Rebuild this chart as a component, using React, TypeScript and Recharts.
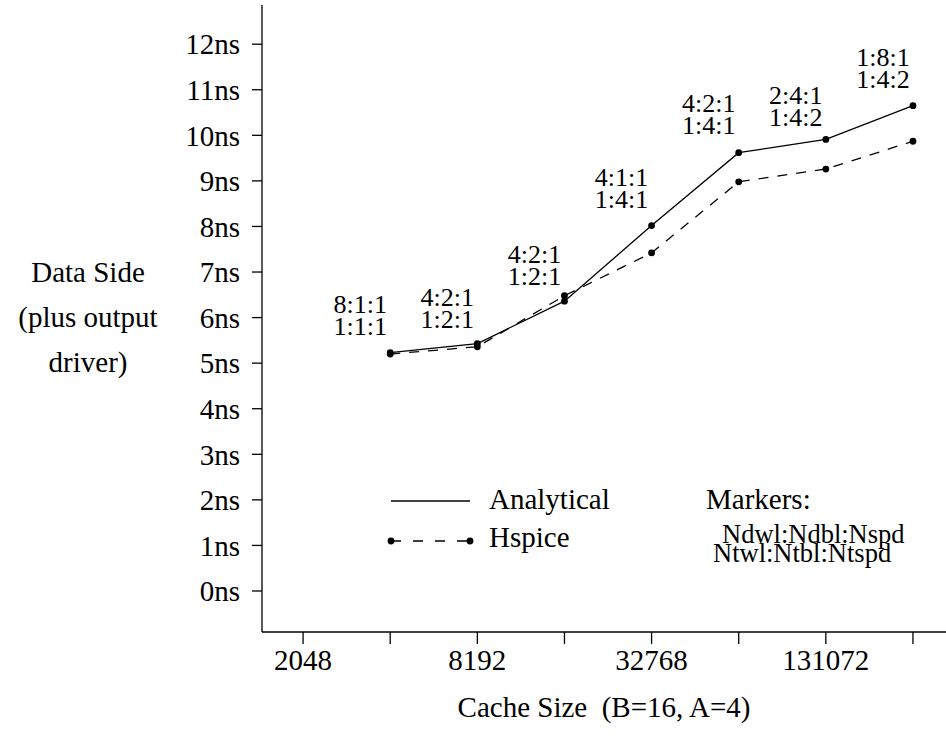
import { LineChart, Line, XAxis, YAxis, Legend, LabelList } from "recharts";

const cacheSizes = [4096, 8192, 16384, 32768, 65536, 131072, 262144];
const analytical = [5.23, 5.43, 6.36, 8.02, 9.62, 9.91, 10.65];
const hspice = [5.2, 5.36, 6.48, 7.42, 8.98, 9.26, 9.87];
const markerTop = ["8:1:1", "4:2:1", "4:2:1", "4:1:1", "4:2:1", "2:4:1", "1:8:1"];
const markerBottom = ["1:1:1", "1:2:1", "1:2:1", "1:4:1", "1:4:1", "1:4:2", "1:4:2"];
// height (ns) of the lower marker line
const markerAt = [5.82, 5.98, 6.92, 8.6, 10.22, 10.4, 11.24];

const xTicks = [2048, 4096, 8192, 16384, 32768, 65536, 131072, 262144];
const xTickLabels = ["2048", "8192", "32768", "131072"];
const yTicks = [0, 1, 2, 3, 4, 5, 6, 7, 8, 9, 10, 11, 12];

const data = cacheSizes.map((size, i) => ({
  size,
  analytical: analytical[i],
  hspice: hspice[i],
  markerAt: markerAt[i],
}));

const FONT = "'Liberation Serif', 'Times New Roman', Times, serif";

function MarkerLabel(props: any) {
  const { x, y, index } = props;
  return (
    <g fontFamily={FONT} fontSize={26} fill="#000" textAnchor="middle">
      <text x={x - 30} y={y - 22} dy="0.35em">
        {markerTop[index]}
      </text>
      <text x={x - 30} y={y} dy="0.35em">
        {markerBottom[index]}
      </text>
    </g>
  );
}

function YTitle(props: any) {
  const { viewBox } = props;
  const cy = viewBox.y + viewBox.height / 2;
  return (
    <g fontFamily={FONT} fontSize={29} fill="#000" textAnchor="middle">
      <text x={88} y={cy - 47} dy="0.35em">Data Side</text>
      <text x={88} y={cy - 2} dy="0.35em">(plus output</text>
      <text x={88} y={cy + 43} dy="0.35em">driver)</text>
    </g>
  );
}

function LegendBox() {
  return (
    <svg width={560} height={100} style={{ display: "block" }}>
      <g fontFamily={FONT} fill="#000">
        <line x1={11} x2={90} y1={26} y2={26} stroke="#000" strokeWidth={1.3} />
        <text x={109} y={24} dy="0.35em" fontSize={29}>Analytical</text>
        <line x1={11} x2={90} y1={66} y2={66} stroke="#000" strokeWidth={1.3} strokeDasharray="10 12" />
        <circle cx={11} cy={66} r={3.4} />
        <circle cx={90} cy={66} r={3.4} />
        <text x={109} y={62} dy="0.35em" fontSize={29}>Hspice</text>
        <text x={326} y={24} dy="0.35em" fontSize={29}>Markers:</text>
        <text x={342} y={59} dy="0.35em" fontSize={26.5}>Ndwl:Ndbl:Nspd</text>
        <text x={333} y={78} dy="0.35em" fontSize={26.5}>Ntwl:Ntbl:Ntspd</text>
      </g>
    </svg>
  );
}

export default function App() {
  return (
    <div style={{ position: "absolute", left: 0, top: 0 }}>
      <LineChart
        width={946}
        height={742}
        data={data}
        margin={{ top: 5, right: 0, left: 0, bottom: 50 }}
      >
        <XAxis
          xAxisId="top"
          orientation="top"
          dataKey="size"
          type="number"
          scale="log"
          domain={[1477, 340950]}
          height={0}
          tick={false}
          tickLine={false}
          axisLine={{ stroke: "#000", strokeWidth: 1.3 }}
        />
        <XAxis
          dataKey="size"
          type="number"
          scale="log"
          domain={[1477, 340950]}
          ticks={xTicks}
          tickFormatter={(v: number) => (xTickLabels.includes(String(v)) ? String(v) : "")}
          interval={0}
          height={60}
          tickSize={12}
          tickMargin={5}
          axisLine={{ stroke: "#000", strokeWidth: 1.3 }}
          tickLine={{ stroke: "#000", strokeWidth: 1.3 }}
          tick={{ fill: "#000", fontSize: 29, fontFamily: FONT }}
          label={{
            value: "Cache Size\u00A0\u00A0(B=16, A=4)",
            position: "bottom",
            offset: 4,
            style: { fill: "#000", fontSize: 29, fontFamily: FONT },
          }}
        />
        <YAxis
          type="number"
          domain={[-0.9, 12.86]}
          ticks={yTicks}
          interval={0}
          width={262}
          tickSize={10}
          tickMargin={12}
          tickFormatter={(v: number) => `${v}ns`}
          axisLine={{ stroke: "#000", strokeWidth: 1.3 }}
          tickLine={{ stroke: "#000", strokeWidth: 1.3 }}
          tick={{ fill: "#000", fontSize: 29, fontFamily: FONT }}
          label={{ content: YTitle }}
        />
        <Legend
          layout="horizontal"
          verticalAlign="middle"
          align="center"
          content={() => <LegendBox />}
          wrapperStyle={{ left: 380, top: 475, width: 560, height: 100 }}
        />
        <Line
          dataKey="analytical"
          name="Analytical"
          stroke="#000"
          strokeWidth={1.3}
          dot={{ r: 3.4, fill: "#000", stroke: "none" }}
          activeDot={false}
          isAnimationActive={false}
        />
        <Line
          dataKey="hspice"
          name="Hspice"
          stroke="#000"
          strokeWidth={1.3}
          strokeDasharray="10 9"
          dot={{ r: 3.4, fill: "#000", stroke: "none", strokeDasharray: "" }}
          activeDot={false}
          isAnimationActive={false}
        />
        <Line
          dataKey="markerAt"
          stroke="none"
          dot={false}
          activeDot={false}
          legendType="none"
          isAnimationActive={false}
        >
          <LabelList dataKey="markerAt" content={MarkerLabel} />
        </Line>
      </LineChart>
    </div>
  );
}
